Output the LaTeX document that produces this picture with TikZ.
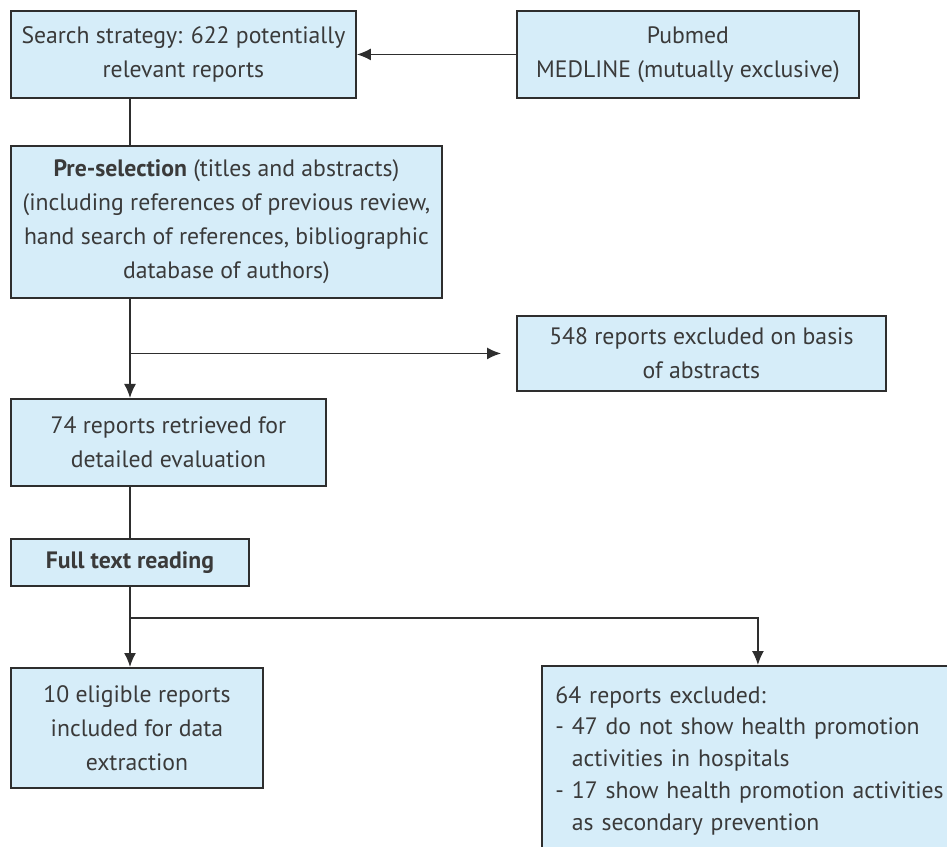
\documentclass[tikz,border=0pt]{standalone}
\usepackage{fontspec}
\setmainfont{PT Sans}
\usepackage{tikz}
\usetikzlibrary{arrows.meta,calc}
\definecolor{boxfill}{HTML}{D6EDF9}
\definecolor{boxline}{HTML}{2E2E2E}
\definecolor{txtgray}{HTML}{3A3A3A}
\tikzset{
  flowbox/.style={draw=boxline, fill=boxfill, line width=1.1pt, text=txtgray,
    anchor=north west, align=center, inner sep=0pt,
    font=\fontsize{13.5}{19.3}\selectfont},
  link/.style={draw=boxline, line width=0.85pt},
  linkarrow/.style={link, -{Latex[length=0.28cm, width=0.24cm]}}
}

\begin{document}
\begin{tikzpicture}[x=0.02cm, y=-0.02cm]
                \useasboundingbox (0,0) rectangle (947,847);
                % boxes
                \node (search) [flowbox, minimum width=6.9cm, minimum height=1.74cm] at (10,10) {Search strategy: 622 potentially\\relevant reports};
                \node (pubmed) [flowbox, minimum width=6.84cm, minimum height=1.74cm] at (516,10) {Pubmed\\MEDLINE (mutually exclusive)};
                \node (presel) [flowbox, minimum width=8.62cm, minimum height=3.04cm] at (10,145) {\textbf{Pre-selection} (titles and abstracts)\\(including references of previous review,\\hand search of references, bibliographic\\database of authors)};
                \node (excl1) [flowbox, minimum width=7.38cm, minimum height=1.5cm] at (516,315) {548 reports excluded on basis\\of abstracts};
                \node (retr) [flowbox, minimum width=6.3cm, minimum height=1.74cm] at (10,398) {74 reports retrieved for\\detailed evaluation};
                \node (full) [flowbox, minimum width=4.76cm, minimum height=0.94cm] at (10,538) {\textbf{Full text reading}};
                \node (incl) [flowbox, minimum width=5.04cm, minimum height=2.4cm] at (10,667) {10 eligible reports\\included for data\\extraction};
                \node (excl2) [flowbox, align=left, text width=8.1cm, inner xsep=0.27cm, minimum height=3.8cm,
                    font=\fontsize{13.5}{18.2}\selectfont] at (541,665) {64 reports excluded:\\- 47 do not show health promotion\\\hphantom{- }activities in hospitals\\- 17 show health promotion activities\\\hphantom{- }as secondary prevention};
                % connectors
                \coordinate (trunk) at (130,0);
                \coordinate (split2) at (130,618);
                \draw[linkarrow] (pubmed.west) -- (search.east);
                \draw[link] (search.south -| trunk) -- (presel.north -| trunk);
                \draw[linkarrow] (presel.south -| trunk) -- (retr.north -| trunk);
                \draw[linkarrow, shorten >=0.3cm] (excl1.west -| trunk) -- (excl1.west);
                \draw[link] (retr.south -| trunk) -- (full.north -| trunk);
                \draw[linkarrow] (full.south -| trunk) -- (incl.north -| trunk);
                \draw[linkarrow] (split2) -| (excl2.north);
            \end{tikzpicture}
\end{document}
